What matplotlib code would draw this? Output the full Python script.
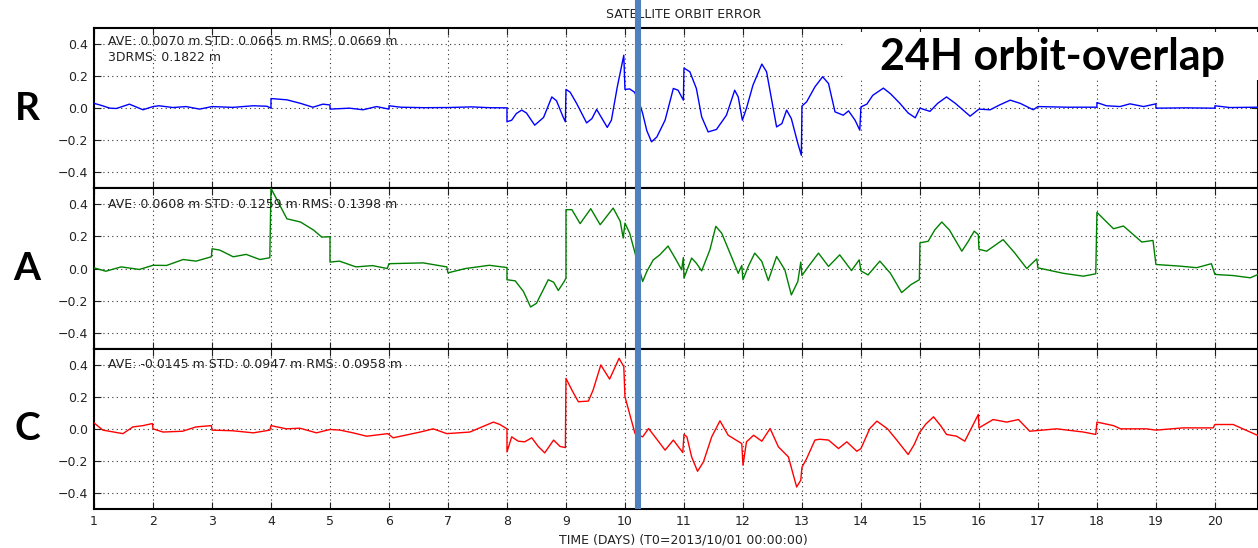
import matplotlib
matplotlib.use("Agg")
import matplotlib.pyplot as plt
from matplotlib.lines import Line2D
from matplotlib.patches import Rectangle
import matplotlib.transforms as mtransforms

# ---------------- data ----------------
r_days = [1.0, 1.1, 1.27, 1.38, 1.6, 1.83, 2.0, 2.1, 2.34, 2.56,
          2.79, 3.0, 3.35, 3.7, 3.93, 4.0, 4.0, 4.27, 4.5, 4.71,
          4.88, 5.0, 5.0, 5.33, 5.56, 5.79, 6.0, 6.0, 6.2, 6.6,
          7.0, 7.4, 7.7, 8.0,
          8.0, 8.08, 8.16, 8.25, 8.33, 8.47, 8.62, 8.76, 8.84, 8.95,
          8.99, 9.0, 9.07, 9.18, 9.35, 9.44, 9.52, 9.6, 9.7, 9.77,
          9.87, 9.98, 10.0, 10.08, 10.16, 10.23, 10.3, 10.37, 10.45, 10.54,
          10.68, 10.82, 10.9, 10.99, 11.0, 11.1, 11.21, 11.3, 11.41, 11.55,
          11.72, 11.86, 11.92, 11.99, 12.06, 12.17, 12.32, 12.4, 12.57, 12.66,
          12.74, 12.82, 12.93, 12.99, 13.0, 13.08, 13.22, 13.35, 13.45, 13.56,
          13.7, 13.79, 13.9, 13.98, 14.0, 14.1,
          14.2, 14.38, 14.5, 14.66, 14.8, 14.92, 15.0, 15.17, 15.3, 15.45,
          15.6, 15.85, 16.0, 16.19, 16.35, 16.53, 16.7, 16.92, 17.0, 17.5,
          18.0, 18.0, 18.16, 18.39, 18.56, 18.79, 19.0, 19.0, 19.5, 20.0,
          20.0, 20.25, 20.73]
r_vals = [0.03, 0.02, 0.0, -0.002, 0.025, -0.01, 0.01, 0.015, 0.004, 0.01,
          -0.006, 0.01, 0.005, 0.015, 0.012, 0.0, 0.06, 0.052, 0.03, 0.006,
          0.025, 0.02, -0.006, 0.0, -0.01, 0.01, -0.006, 0.015, 0.006, 0.003,
          0.004, 0.008, 0.003, 0.002,
          -0.085, -0.075, -0.033, -0.012, -0.03, -0.106, -0.058, 0.07, 0.046, -0.054,
          -0.085, 0.117, 0.1, 0.03, -0.092, -0.065, -0.008, -0.058, -0.12, -0.075,
          0.133, 0.33, 0.117, 0.12, 0.1, 0.05, -0.033, -0.14, -0.21, -0.18,
          -0.075, 0.123, 0.112, 0.05, 0.25, 0.227, 0.123, -0.054, -0.148, -0.133,
          -0.044, 0.112, 0.07, -0.075, 0.0, 0.144, 0.275, 0.227, -0.117, -0.096,
          -0.012, -0.065, -0.22, -0.294, 0.013, 0.04, 0.133, 0.196, 0.154, -0.023,
          -0.044, -0.017, -0.075, -0.137, 0.008, 0.025,
          0.08, 0.125, 0.09, 0.03, -0.03, -0.06, 0.0, -0.02, 0.03, 0.07,
          0.03, -0.05, -0.006, -0.01, 0.02, 0.05, 0.03, -0.01, 0.01, 0.006,
          0.006, 0.035, 0.015, 0.01, 0.027, 0.01, 0.027, 0.0, 0.002, 0.0,
          0.015, 0.004, 0.006]

a_days = [1.0, 1.2, 1.46, 1.77, 2.0, 2.23, 2.51, 2.73, 2.99, 3.0,
          3.13, 3.36, 3.58, 3.81, 3.98, 4.0, 4.27, 4.5, 4.72, 4.86,
          5.0, 5.0, 5.16, 5.44, 5.72, 5.97, 6.0, 6.58, 6.98, 7.0,
          7.3, 7.7, 8.0,
          8.0, 8.14, 8.28, 8.4, 8.5, 8.7, 8.79, 8.87, 8.97, 9.0,
          9.0, 9.1, 9.24, 9.42, 9.58, 9.8, 9.92, 9.97, 10.0, 10.08,
          10.17, 10.3, 10.37, 10.48, 10.59, 10.73, 10.85, 10.96, 10.99, 11.0,
          11.13, 11.21, 11.3, 11.44, 11.54, 11.64, 11.78, 11.92, 11.98, 12.0,
          12.09, 12.2, 12.32, 12.43, 12.57, 12.71, 12.82, 12.93, 12.98, 13.0,
          13.11, 13.28, 13.45, 13.64, 13.84, 13.97, 14.0, 14.12,
          14.32, 14.5, 14.69, 14.85, 14.99, 15.0, 15.14, 15.25, 15.37, 15.5,
          15.71, 15.82, 15.92, 15.99, 16.0, 16.13, 16.41, 16.6, 16.81, 16.98,
          17.0, 17.43, 17.77, 17.98, 18.0, 18.28, 18.45, 18.76, 18.95, 19.0,
          19.4, 19.69, 19.94, 20.0, 20.31, 20.6, 20.73]
a_vals = [0.004, -0.017, 0.01, -0.006, 0.02, 0.019, 0.056, 0.046, 0.073, 0.123,
          0.115, 0.073, 0.088, 0.056, 0.067, 0.5, 0.31, 0.29, 0.24, 0.196,
          0.198, 0.04, 0.046, 0.01, 0.018, 0.0, 0.03, 0.035, 0.01, -0.027,
          0.0, 0.02, 0.006,
          -0.07, -0.077, -0.144, -0.24, -0.217, -0.07, -0.085, -0.137, -0.081, -0.06,
          0.367, 0.367, 0.28, 0.373, 0.273, 0.377, 0.294, 0.19, 0.283, 0.22,
          0.096, -0.081, -0.019, 0.054, 0.085, 0.14, 0.065, -0.008, 0.069, -0.06,
          0.065, 0.033, -0.015, 0.117, 0.263, 0.22, 0.096, -0.03, 0.019, -0.07,
          0.013, 0.096, 0.044, -0.075, 0.075, -0.008, -0.165, -0.081, 0.04, -0.044,
          0.013, 0.096, 0.013, 0.085, -0.013, 0.054, -0.015, -0.04,
          0.046, -0.03, -0.15, -0.1, -0.07, 0.16, 0.17, 0.24, 0.29, 0.24,
          0.108, 0.17, 0.233, 0.21, 0.12, 0.108, 0.18, 0.1, 0.0, 0.06,
          0.004, -0.03, -0.048, -0.033, 0.35, 0.248, 0.265, 0.165, 0.175, 0.025,
          0.015, 0.005, 0.03, -0.037, -0.044, -0.058, -0.037]

c_days = [1.0, 1.15, 1.49, 1.66, 1.83, 1.99, 2.0, 2.17, 2.5, 2.73,
          2.99, 3.0, 3.35, 3.7, 3.98, 4.0, 4.26, 4.49, 4.77, 5.0,
          5.17, 5.39, 5.62, 5.98, 6.07, 6.53, 6.75, 6.98, 7.37, 7.77,
          7.88,
          8.0, 8.0, 8.08, 8.19, 8.3, 8.42, 8.53, 8.64, 8.79, 8.9,
          8.99, 9.0, 9.1, 9.21, 9.38, 9.46, 9.59, 9.74, 9.9, 9.98,
          10.0, 10.17, 10.3, 10.4, 10.54, 10.68, 10.82, 10.98, 11.0, 11.05,
          11.13, 11.23, 11.33, 11.47, 11.61, 11.75, 11.86, 11.98, 12.0, 12.06,
          12.18, 12.32, 12.46, 12.6, 12.77, 12.91, 12.98, 13.0, 13.08, 13.22,
          13.3, 13.45, 13.62, 13.76, 13.93, 14.0, 14.15,
          14.27, 14.45, 14.6, 14.8, 14.9, 14.99, 15.1, 15.23, 15.35, 15.45,
          15.62, 15.76, 15.99, 16.0, 16.24, 16.47, 16.67, 16.86, 17.32, 17.77,
          17.98, 18.0, 18.28, 18.4, 18.84, 19.0, 19.46, 19.97, 20.0, 20.31,
          20.73]
c_vals = [0.037, -0.008, -0.03, 0.012, 0.02, 0.033, 0.0, -0.02, -0.015, 0.012,
          0.02, -0.008, -0.012, -0.025, -0.008, 0.02, 0.0, 0.004, -0.025, -0.004,
          -0.008, -0.025, -0.046, -0.03, -0.056, -0.02, 0.0, -0.03, -0.02, 0.042,
          0.027,
          0.0, -0.144, -0.05, -0.077, -0.081, -0.056, -0.11, -0.15, -0.07, -0.11,
          -0.117, 0.315, 0.242, 0.169, 0.173, 0.242, 0.398, 0.31, 0.44, 0.388,
          0.2, -0.029, -0.05, 0.002, -0.065, -0.133, -0.07, -0.148, -0.035, -0.05,
          -0.175, -0.265, -0.206, -0.05, 0.05, -0.04, -0.065, -0.092, -0.227, -0.081,
          -0.04, -0.077, 0.002, -0.112, -0.175, -0.363, -0.32, -0.24, -0.185, -0.07,
          -0.065, -0.07, -0.123, -0.081, -0.14, -0.123, 0.002,
          0.048, 0.0, -0.067, -0.16, -0.1, -0.025, 0.03, 0.075, 0.02, -0.035,
          -0.046, -0.077, 0.09, 0.006, 0.058, 0.042, 0.058, -0.015, 0.0, -0.02,
          -0.035, 0.042, 0.02, 0.0, 0.0, -0.008, 0.006, 0.006, 0.027, 0.027,
          -0.042]

panel_letters = ["R", "A", "C"]
series_days = [r_days, a_days, c_days]
series_vals = [r_vals, a_vals, c_vals]
series_colors = ["#0000ff", "#008000", "#ff0000"]
stats_texts = ["AVE: 0.0070 m STD: 0.0665 m RMS: 0.0669 m\n3DRMS: 0.1822 m",
               "AVE: 0.0608 m STD: 0.1259 m RMS: 0.1398 m",
               "AVE: -0.0145 m STD: 0.0947 m RMS: 0.0958 m"]
y_ticks = [-0.4, -0.2, 0.0, 0.2, 0.4]
x_ticks = list(range(1, 21))
overlap_day = 10.22
title_text = "SATELLITE ORBIT ERROR"
xlabel_text = "TIME (DAYS) (T0=2013/10/01 00:00:00)"
banner_text = "24H orbit-overlap"

# ---------------- figure ----------------
W, H = 1258, 548
fig = plt.figure(figsize=(W / 100, H / 100), dpi=100)
plt.rcParams['font.family'] = ['DejaVu Sans']

left = 94 / W
top_px, bot_px = 28, 509
panel_h = (bot_px - top_px) / 3
axes = []
for i in range(3):
    y0 = 1 - (top_px + (i + 1) * panel_h) / H
    ax = fig.add_axes([left, y0, 1 - left, panel_h / H])
    axes.append(ax)

for i, ax in enumerate(axes):
    ax.plot(series_days[i], series_vals[i], color=series_colors[i], lw=1.0,
            solid_joinstyle="round", zorder=3)
    ax.set_xlim(1, 20.73)
    ax.set_ylim(-0.5, 0.5)
    ax.set_yticks(y_ticks)
    ax.set_xticks(x_ticks)
    ax.grid(True, color="black", linestyle=(0, (1, 3)), linewidth=0.8, alpha=0.8)
    ax.tick_params(direction="in", length=5, width=0.8, top=True, right=True,
                   labelsize=9, pad=4, colors="#222222")
    for s in ax.spines.values():
        s.set_linewidth(1.5)
    if i < 2:
        ax.tick_params(labelbottom=False)
    ax.text(0.012, 0.4 if i else 0.455, stats_texts[i], transform=ax.get_yaxis_transform(),
            ha="left", va="center" if i else "top", fontsize=9, color="#222222",
            linespacing=1.3, zorder=4)

fig.canvas.draw()
for i, ax in enumerate(axes):
    ypix = ax.transData.transform((1, 0.0))[1]
    fig.text(27 / W, ypix / H, panel_letters[i], ha="center", va="center",
             fontsize=28, fontweight="bold", family="Lato")

# white box behind banner
axes[0].add_patch(Rectangle((843 / W, 1 - 80 / H), (W - 843) / W, 48 / H,
                            transform=fig.transFigure, facecolor="white",
                            edgecolor="none", zorder=5))
fig.text(1053 / W, 1 - 57 / H, banner_text, ha="center", va="center",
         fontsize=31, fontweight="bold", family="Lato", zorder=6)

fig.text(684 / W, 1 - 15 / H, title_text, ha="center", va="center", fontsize=9,
         color="#222222")
fig.text(683 / W, 1 - 540 / H, xlabel_text, ha="center", va="center", fontsize=9,
         color="#222222")

# blue overlap marker
trans = mtransforms.blended_transform_factory(axes[2].transData, fig.transFigure)
fig.add_artist(Line2D([overlap_day, overlap_day], [1 - bot_px / H, 1.0], transform=trans,
                      color="#4f81bd", linewidth=4.4, solid_capstyle="butt", zorder=10))

fig.savefig("out.png", dpi=100)
